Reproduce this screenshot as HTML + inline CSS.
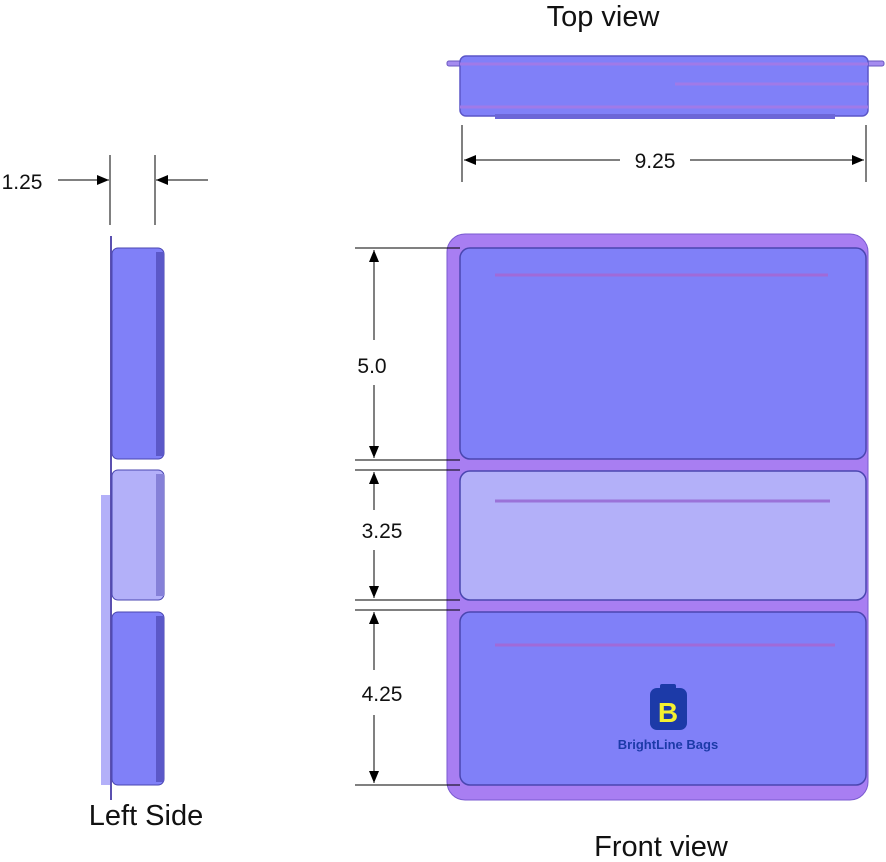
<!DOCTYPE html>
<html><head><style>body{margin:0;background:#fff}svg{display:block}text{font-family:"Liberation Sans",sans-serif;fill:#111}</style></head><body>
<svg width="886" height="862" viewBox="0 0 886 862" xmlns="http://www.w3.org/2000/svg">
<defs>
<marker id="a" markerWidth="12" markerHeight="10" refX="12" refY="5" orient="auto" markerUnits="userSpaceOnUse"><path d="M0,0 L12,5 L0,10 Z" fill="#000"/></marker>
</defs>
<text x="603" y="26" font-size="29" text-anchor="middle">Top view</text>
<text x="146" y="825" font-size="29" text-anchor="middle">Left Side</text>
<text x="661" y="856" font-size="29" text-anchor="middle">Front view</text>
<!-- Top view -->
<rect x="447" y="61" width="437" height="5" rx="2" fill="#a58cf0" stroke="#6a58c0" stroke-width="1"/>
<rect x="460" y="56" width="408" height="60" rx="6" fill="#8080f8" stroke="#5b56c8" stroke-width="1.5"/>
<line x1="460" y1="64" x2="868" y2="64" stroke="#a07ae8" stroke-width="3"/>
<line x1="675" y1="84" x2="868" y2="84" stroke="#a07ae8" stroke-width="3"/>
<line x1="460" y1="107" x2="868" y2="107" stroke="#a07ae8" stroke-width="3"/>
<rect x="495" y="114" width="340" height="5" fill="#6c66d8"/>
<line x1="462" y1="125" x2="462" y2="182" stroke="#000"/>
<line x1="866" y1="125" x2="866" y2="182" stroke="#000"/>
<line x1="620" y1="160" x2="464" y2="160" stroke="#000" marker-end="url(#a)"/>
<line x1="690" y1="160" x2="864" y2="160" stroke="#000" marker-end="url(#a)"/>
<text x="655" y="168" font-size="21" text-anchor="middle">9.25</text>
<!-- Left side -->
<line x1="110" y1="155" x2="110" y2="225" stroke="#000"/>
<line x1="155" y1="155" x2="155" y2="225" stroke="#000"/>
<line x1="58" y1="180" x2="109" y2="180" stroke="#000" marker-end="url(#a)"/>
<line x1="208" y1="180" x2="156" y2="180" stroke="#000" marker-end="url(#a)"/>
<text x="22" y="189" font-size="21" text-anchor="middle">1.25</text>
<rect x="101" y="495" width="11" height="290" fill="#b3b0f9"/>
<line x1="111" y1="236" x2="111" y2="800" stroke="#5b50b0" stroke-width="2"/>
<rect x="112" y="248" width="52" height="211" rx="6" fill="#8080f8" stroke="#4a46b0"/>
<rect x="156" y="252" width="8" height="204" fill="#5b58c8"/>
<rect x="112" y="470" width="52" height="130" rx="6" fill="#b3b0f9" stroke="#4a46b0"/>
<rect x="156" y="474" width="8" height="122" fill="#8580d8"/>
<rect x="112" y="612" width="52" height="173" rx="6" fill="#8080f8" stroke="#4a46b0"/>
<rect x="156" y="616" width="8" height="166" fill="#5b58c8"/>
<!-- Front view -->
<rect x="447" y="234" width="421" height="566" rx="18" fill="#a87ef2" stroke="#7a5ad0"/>
<rect x="460" y="248" width="406" height="211" rx="10" fill="#8080f8" stroke="#4a46b0" stroke-width="1.5"/>
<rect x="460" y="471" width="406" height="129" rx="10" fill="#b3b0f9" stroke="#4a46b0" stroke-width="1.5"/>
<rect x="460" y="612" width="406" height="173" rx="10" fill="#8080f8" stroke="#4a46b0" stroke-width="1.5"/>
<line x1="495" y1="275" x2="828" y2="275" stroke="#a06ad8" stroke-width="3"/>
<line x1="495" y1="501" x2="830" y2="501" stroke="#9a72d8" stroke-width="3"/>
<line x1="495" y1="645" x2="835" y2="645" stroke="#a06ad8" stroke-width="3"/>
<rect x="650" y="688" width="37" height="42" rx="7" fill="#1c3aa8"/>
<rect x="660" y="684" width="16" height="6" rx="2" fill="#1c3aa8"/>
<text x="668" y="722" font-size="28" font-weight="bold" text-anchor="middle" style="fill:#f5f030">B</text>
<text x="668" y="749" font-size="13" font-weight="bold" text-anchor="middle" style="fill:#1c3aa8">BrightLine Bags</text>
<!-- vertical dims -->
<g stroke="#000">
<line x1="355" y1="248" x2="460" y2="248"/>
<line x1="355" y1="460" x2="460" y2="460"/>
<line x1="355" y1="470" x2="460" y2="470"/>
<line x1="355" y1="600" x2="460" y2="600"/>
<line x1="355" y1="610" x2="460" y2="610"/>
<line x1="355" y1="785" x2="460" y2="785"/>
<line x1="374" y1="340" x2="374" y2="250" marker-end="url(#a)"/>
<line x1="374" y1="385" x2="374" y2="458" marker-end="url(#a)"/>
<line x1="374" y1="510" x2="374" y2="472" marker-end="url(#a)"/>
<line x1="374" y1="550" x2="374" y2="598" marker-end="url(#a)"/>
<line x1="374" y1="670" x2="374" y2="612" marker-end="url(#a)"/>
<line x1="374" y1="715" x2="374" y2="783" marker-end="url(#a)"/>
</g>
<text x="372" y="373" font-size="21" text-anchor="middle">5.0</text>
<text x="382" y="538" font-size="21" text-anchor="middle">3.25</text>
<text x="382" y="701" font-size="21" text-anchor="middle">4.25</text>
</svg>
</body></html>
